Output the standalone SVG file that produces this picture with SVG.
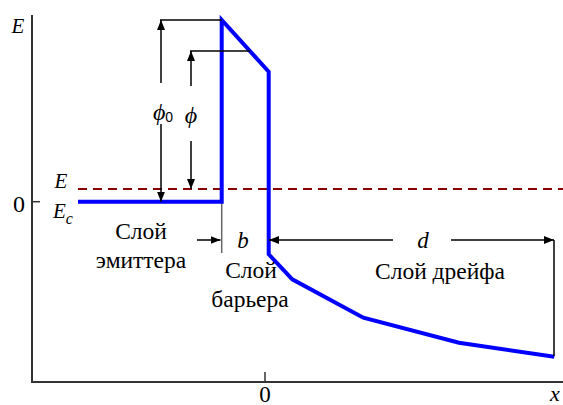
<svg xmlns="http://www.w3.org/2000/svg" width="563" height="405" viewBox="0 0 563 405">
<defs>
<marker id="ah" viewBox="0 0 10 8" refX="10" refY="4" markerWidth="10" markerHeight="8" markerUnits="userSpaceOnUse" orient="auto">
<path d="M0,0 L10,4 L0,8 Z" fill="#000"/>
</marker>
</defs>
<style>
.axis{stroke:#333;stroke-width:2;fill:none}
.tick{stroke:#333;stroke-width:1.5;fill:none}
.dim{stroke:#000;stroke-width:1.5;fill:none}
.arr{stroke:#000;stroke-width:1.5;fill:none;marker-end:url(#ah)}
.curve{stroke:#0000ff;stroke-width:4;fill:none;stroke-linejoin:miter}
.fermi{stroke:#8b0000;stroke-width:2;stroke-dasharray:9 6;fill:none}
text{fill:#000}
.it{font-style:italic}
.lbl{font-size:23.5px;text-anchor:middle}
</style>
<rect width="563" height="405" fill="#fff"/>
<g font-family="'Liberation Serif', 'DejaVu Serif', serif">
<g id="axes">
<path class="axis" d="M32,15 V382 H563"/>
<path class="tick" d="M32,201.7 H40"/>
<path class="tick" d="M265,372 V382"/>
<text x="19" y="212" font-size="24" text-anchor="middle">0</text>
<text x="265" y="402" font-size="23" text-anchor="middle">0</text>
<text class="it" x="18" y="33" font-size="21" text-anchor="middle">E</text>
<text class="it" x="555" y="401" font-size="22" text-anchor="middle">x</text>
</g>
<g id="fermi-level">
<path class="fermi" d="M78,189 H563"/>
<text class="it" x="61" y="188" font-size="21" text-anchor="middle">E</text>
</g>
<g id="band-edge">
<path d="M221.7,201.7 V253" stroke="#666" stroke-width="1.5" fill="none"/>
<path class="curve" d="M78,201.7 H221.7 V20 L268.7,71.7 V254.3 L292.3,279.3 L363.3,317.7 L459,342.7 L554.3,356.7"/>
<text class="it" x="63" y="218" font-size="21" text-anchor="middle">E<tspan font-size="16" dy="6">c</tspan></text>
</g>
<g id="connectors">
<path class="dim" d="M160,20 H221.7"/>
<path class="arr" d="M161,83 V20"/>
<path class="arr" d="M161,124 V201.7"/>
<path class="dim" d="M190,51 H250"/>
<path class="arr" d="M191,86 V51"/>
<path class="arr" d="M191,141 V189"/>
<path class="arr" d="M197,240 H220.5"/>
<path class="arr" d="M393,240 H269"/>
<path class="arr" d="M451,240 H554"/>
<path class="dim" d="M554,240 V356"/>
</g>
<g id="labels">
<text class="it" x="163" y="120" font-size="24" text-anchor="middle">ϕ<tspan font-family="'Liberation Sans', Arial, sans-serif" font-style="normal" font-size="14" dy="2">0</tspan></text>
<text class="it" x="191" y="123" font-size="24" text-anchor="middle">ϕ</text>
<text class="it" x="243" y="248" font-size="23" text-anchor="middle">b</text>
<text class="it" x="423" y="248" font-size="23" text-anchor="middle">d</text>
<text class="lbl" x="141" y="239">Слой</text>
<text class="lbl" x="141" y="268">эмиттера</text>
<text class="lbl" x="251" y="278">Слой</text>
<text class="lbl" x="250" y="307">барьера</text>
<text class="lbl" x="440" y="279">Слой дрейфа</text>
</g>
</g>
</svg>
